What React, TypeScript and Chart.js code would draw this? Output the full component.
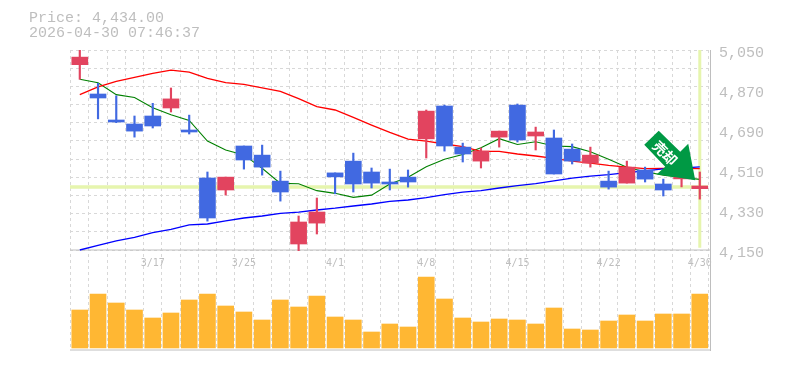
import { useEffect, useRef } from "react";
import { Chart, registerables } from "chart.js";

Chart.register(...registerables);

const bodyHigh = [5018, 4852, 4735, 4717, 4753, 4830, 4690, 4474, 4478, 4618, 4577, 4460, 4276, 4321, 4497, 4550, 4501, 4456, 4478, 4775, 4798, 4613, 4595, 4685, 4802, 4681, 4654, 4604, 4577, 4460, 4523, 4510, 4447, 4490, 4438];
const bodyLow = [4984, 4834, 4726, 4685, 4708, 4789, 4681, 4294, 4420, 4555, 4523, 4411, 4177, 4271, 4479, 4447, 4451, 4447, 4456, 4650, 4618, 4582, 4550, 4658, 4645, 4663, 4492, 4550, 4541, 4433, 4451, 4469, 4420, 4470, 4426];
const wickHigh = [5050, 4900, 4844, 4753, 4810, 4879, 4757, 4501, 4478, 4618, 4622, 4505, 4303, 4384, 4497, 4586, 4519, 4514, 4510, 4780, 4802, 4631, 4609, 4685, 4807, 4703, 4690, 4627, 4613, 4505, 4550, 4523, 4469, 4495, 4501];
const wickLow = [4918, 4740, 4723, 4658, 4699, 4771, 4672, 4280, 4397, 4514, 4487, 4370, 4147, 4222, 4403, 4411, 4429, 4420, 4433, 4564, 4595, 4546, 4519, 4613, 4636, 4600, 4492, 4537, 4523, 4424, 4451, 4456, 4393, 4434, 4379];
const candleKinds = ["r", "b", "b", "b", "b", "r", "b", "b", "r", "b", "b", "b", "r", "r", "b", "b", "b", "b", "b", "r", "b", "b", "r", "r", "b", "r", "b", "b", "r", "b", "r", "b", "b", "r", "r"];
const maShort = [4918, 4903, 4849, 4836, 4790, 4759, 4733, 4640, 4600, 4578, 4518, 4450, 4448, 4417, 4405, 4387, 4397, 4447, 4477, 4525, 4558, 4580, 4610, 4651, 4625, 4637, 4618, 4615, 4592, 4558, 4522, 4502, 4487, 4477, 4468];
const maMid = [4849, 4884, 4909, 4927, 4945, 4959, 4950, 4922, 4903, 4895, 4880, 4864, 4831, 4795, 4780, 4747, 4712, 4679, 4649, 4640, 4627, 4615, 4594, 4594, 4582, 4573, 4562, 4550, 4541, 4531, 4523, 4516, 4517, 4517, 4516];
const maLong = [4150, 4171, 4191, 4207, 4228, 4243, 4263, 4267, 4281, 4294, 4303, 4315, 4320, 4330, 4338, 4348, 4357, 4369, 4375, 4386, 4399, 4410, 4417, 4429, 4440, 4449, 4461, 4473, 4482, 4489, 4498, 4506, 4515, 4518, 4524];
const volumes = [38, 54, 45, 38, 30, 35, 48, 54, 42, 36, 28, 48, 41, 52, 31, 28, 16, 24, 21, 71, 49, 30, 26, 29, 28, 24, 40, 19, 18, 27, 33, 27, 34, 34, 54];
const dateTickIndex = [4, 9, 14, 19, 24, 29, 34];
const dateTickLabels = ["3/17", "3/25", "4/1", "4/8", "4/15", "4/22", "4/30"];
const priceTicks = [5050, 4870, 4690, 4510, 4330, 4150];
const lastPrice = 4434;
const lastIndex = 34;
const titleLines = ["Price: 4,434.00", "2026-04-30 07:46:37"];
const signalText = "売却";
const signalIndex = 33.75;
const signalPrice = 4464;

const RED = "#e2445f";
const BLUE = "#4169e1";
const BAND = "#e6f5ae";
const GREY = "#bebebe";
const GRID = "#d8d8d8";
const FONT = '"Liberation Mono", monospace';
const X_MIN = -0.537;
const X_MAX = 34.56;
const P_MAX = 5050;
const P_MIN = 3700;

const sellArrow = {
  id: "sellArrow",
  afterDatasetsDraw(chart: any) {
    const tx = chart.scales.x.getPixelForValue(signalIndex);
    const ty = chart.scales.y.getPixelForValue(signalPrice);
    const c = chart.ctx;
    c.save();
    c.fillStyle = "#009944";
    c.beginPath();
    c.moveTo(tx, ty);
    [[-7, -36.5], [-15, -28.5], [-36.5, -49.5], [-51, -35.5], [-30, -13.5], [-38.5, -6]].forEach(([dx, dy]) => c.lineTo(tx + dx, ty + dy));
    c.closePath();
    c.fill();
    c.translate(tx - 28, ty - 25);
    c.rotate(Math.PI / 4);
    c.fillStyle = "#ffffff";
    c.font = 'bold 14px "Noto Sans CJK JP"';
    c.textAlign = "center";
    c.textBaseline = "middle";
    c.fillText(signalText, -3, 0);
    c.restore();
  },
};

const index = volumes.map((_, i) => i);
const pts = (arr: number[]) => arr.map((y, i) => ({ x: i, y }));
const colours = candleKinds.map((k) => (k === "r" ? RED : BLUE));

const gridX = [X_MIN, ...Array.from({ length: 35 }, (_, i) => i + 0.5)];
const gridY = Array.from({ length: 12 }, (_, i) => P_MAX - (i * 900) / 11);

export default function App() {
  const ref = useRef<HTMLCanvasElement>(null);
  useEffect(() => {
    const chart = new Chart(ref.current as HTMLCanvasElement, {
      type: "bar",
      plugins: [sellArrow],
      data: {
        datasets: [
          { type: "bar", label: "body", xAxisID: "x", yAxisID: "y", order: 10, grouped: false, barThickness: 16, data: index.map((i) => ({ x: i, y: [bodyLow[i], bodyHigh[i]] })), backgroundColor: colours },
          { type: "bar", label: "wick", xAxisID: "x", yAxisID: "y", order: 11, grouped: false, barThickness: 1.5, data: index.map((i) => ({ x: i, y: [wickLow[i], wickHigh[i]] })), backgroundColor: colours },
          { type: "bar", label: "volume", xAxisID: "x", yAxisID: "yv", order: 30, grouped: false, barThickness: 16, data: pts(volumes), backgroundColor: "#ffb733" },
          { type: "line", label: "short", xAxisID: "x", yAxisID: "y", order: 50, data: pts(maShort), borderColor: "#008000", borderWidth: 1.1, pointRadius: 0, tension: 0 },
          { type: "line", label: "mid", xAxisID: "x", yAxisID: "y", order: 49, data: pts(maMid), borderColor: "#ff0000", borderWidth: 1.3, pointRadius: 0, tension: 0 },
          { type: "line", label: "long", xAxisID: "x", yAxisID: "y", order: 48, data: pts(maLong), borderColor: "#0000ff", borderWidth: 1.3, pointRadius: 0, tension: 0 },
          { type: "line", label: "lastH", xAxisID: "x", yAxisID: "y", order: 60, data: [{ x: X_MIN, y: lastPrice }, { x: lastIndex + 0.45, y: lastPrice }], borderColor: BAND, borderWidth: 3.5, pointRadius: 0 },
          { type: "line", label: "lastV", xAxisID: "x", yAxisID: "y", order: 60, data: [{ x: lastIndex, y: P_MAX }, { x: lastIndex, y: 4160 }], borderColor: BAND, borderWidth: 3, pointRadius: 0 },
          { type: "line", label: "divider", xAxisID: "x", yAxisID: "y", order: 70, data: [{ x: X_MIN, y: 4150 }, { x: X_MAX, y: 4150 }], borderColor: GREY, borderWidth: 1, pointRadius: 0 },
          { type: "line", label: "baseline", xAxisID: "x", yAxisID: "y", order: 70, clip: false, data: [{ x: X_MIN, y: P_MIN }, { x: X_MAX, y: P_MIN }], borderColor: GREY, borderWidth: 1, pointRadius: 0 },
        ] as any,
      },
      options: {
        animation: false,
        responsive: false,
        layout: { padding: { top: 50, left: 70, bottom: 20, right: 0 } },
        plugins: { legend: { display: false }, tooltip: { enabled: false }, title: { display: false } },
        scales: {
          x: {
            type: "linear",
            offset: false,
            min: X_MIN,
            max: X_MAX,
            position: "bottom",
            afterBuildTicks: (s: any) => { s.ticks = gridX.map((value) => ({ value })); },
            afterFit: (s: any) => { s.height = 0; },
            ticks: { display: false },
            grid: { color: GRID, lineWidth: 1, drawTicks: false, offset: false },
            border: { display: false, dash: [3, 3] },
          } as any,
          xl: {
            type: "linear",
            axis: "x",
            offset: false,
            min: X_MIN,
            max: X_MAX,
            position: { y: 4150 },
            afterBuildTicks: (s: any) => { s.ticks = dateTickIndex.map((value) => ({ value })); },
            ticks: {
              autoSkip: false,
              maxRotation: 0,
              padding: 7,
              color: GREY,
              font: { family: '"DejaVu Sans Mono", monospace', size: 10 },
              callback: (v: any) => dateTickLabels[dateTickIndex.indexOf(v)],
            },
            grid: { display: false, drawTicks: false, offset: false },
            border: { display: false },
          } as any,
          y: {
            type: "linear",
            min: P_MIN,
            max: P_MAX,
            position: "right",
            afterBuildTicks: (s: any) => { s.ticks = priceTicks.map((value) => ({ value })); },
            afterFit: (s: any) => { s.width = 75; },
            ticks: {
              autoSkip: false,
              padding: 9,
              labelOffset: 3,
              color: GREY,
              font: { family: FONT, size: 15 },
              callback: (v: any) => Number(v).toLocaleString("en-US"),
            },
            grid: { display: false, drawTicks: false },
            border: { display: true, color: GREY, width: 1 },
          } as any,
          yg: {
            type: "linear",
            min: P_MIN,
            max: P_MAX,
            position: "left",
            afterBuildTicks: (s: any) => { s.ticks = gridY.map((value) => ({ value })); },
            afterFit: (s: any) => { s.width = 0; },
            ticks: { display: false },
            grid: { color: GRID, lineWidth: 1, drawTicks: false },
            border: { display: false, dash: [3, 3] },
          } as any,
          yv: { type: "linear", min: -2, max: 298, display: false },
        },
      } as any,
    });
    return () => chart.destroy();
  }, []);
  return (
    <div style={{ position: "absolute", left: 0, top: 0, width: 785, height: 370 }}>
      <canvas ref={ref} width={785} height={370} style={{ display: "block" }} />
      <div style={{ position: "absolute", left: 29, top: 11, font: `15px/15px ${FONT}`, color: GREY, whiteSpace: "pre" }}>
        {titleLines.map((t) => (
          <div key={t}>{t}</div>
        ))}
      </div>
    </div>
  );
}
